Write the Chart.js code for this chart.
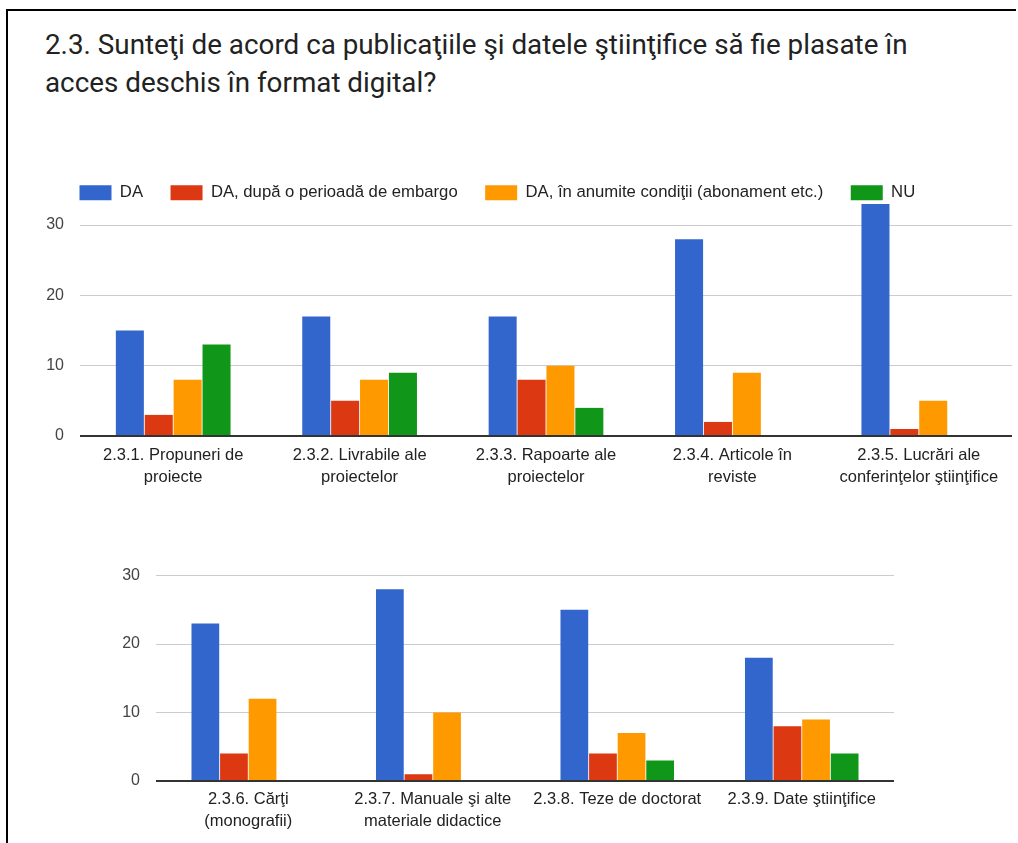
<!DOCTYPE html>
<html><head><meta charset="utf-8">
<script src="https://cdn.jsdelivr.net/npm/chart.js@4.4.0/dist/chart.umd.min.js"></script>
<style>
html,body{margin:0;padding:0;background:#fff;width:1018px;height:843px;overflow:hidden;position:relative;font-family:"Liberation Sans",Arial,sans-serif;}
#bt{position:absolute;left:6px;top:9px;width:1010px;height:2px;background:#000;}
#bl{position:absolute;left:6px;top:9px;width:2px;height:834px;background:#000;}
#title{position:absolute;left:45px;top:26px;font-family:Roboto,sans-serif;font-size:27.8px;line-height:38px;color:#222;white-space:nowrap;}
#w1{position:absolute;left:0;top:157px;width:1018px;height:363px;}
#w2{position:absolute;left:0;top:550px;width:1018px;height:293px;}
</style></head>
<body>
<div id="bt"></div><div id="bl"></div>
<div id="title">2.3. Sunteţi de acord ca publicaţiile şi datele ştiinţifice să fie plasate în<br>acces deschis în format digital?</div>
<div id="w1"><canvas id="c1"></canvas></div>
<div id="w2"><canvas id="c2"></canvas></div>
<script>
const seriesNames = ["DA", "DA, după o perioadă de embargo", "DA, în anumite condiţii (abonament etc.)", "NU"];
const colors = ["#3366cc", "#dc3912", "#ff9900", "#109618"];

const categoriesTop = [
  ["2.3.1. Propuneri de", "proiecte"],
  ["2.3.2. Livrabile ale", "proiectelor"],
  ["2.3.3. Rapoarte ale", "proiectelor"],
  ["2.3.4. Articole în", "reviste"],
  ["2.3.5. Lucrări ale", "conferinţelor ştiinţifice"]
];
const daTop       = [15, 17, 17, 28, 33];
const embargoTop  = [3, 5, 8, 2, 1];
const conditiiTop = [8, 8, 10, 9, 5];
const nuTop       = [13, 9, 4, 0, 0];

const categoriesBottom = [
  ["2.3.6. Cărţi", "(monografii)"],
  ["2.3.7. Manuale şi alte", "materiale didactice"],
  ["2.3.8. Teze de doctorat"],
  ["2.3.9. Date ştiinţifice"]
];
const daBottom       = [23, 28, 25, 18];
const embargoBottom  = [4, 1, 4, 8];
const conditiiBottom = [12, 10, 7, 9];
const nuBottom       = [0, 0, 3, 4];

const yTickValues = [0, 10, 20, 30];

Chart.defaults.font.family = '"Liberation Sans", Arial, sans-serif';
Chart.defaults.animation = false;

const legendShift = {
  id: 'legendShift',
  afterLayout(chart, args, opts){
    if (chart.legend && opts && opts.dx) { chart.legend.left += opts.dx; }
  }
};

function makeDatasets(arrs){
  return arrs.map((d,i)=>({label: seriesNames[i], data: d, backgroundColor: colors[i], borderWidth: 0,
    categoryPercentage: 0.62, barPercentage: 0.97}));
}

function makeOptions(cfg){
  return {
    responsive: true, maintainAspectRatio: false, animation: false,
    layout: {padding: cfg.padding},
    plugins: {
      legendShift: {dx: cfg.legendDx || 0},
      legend: cfg.legend ? {
        display: true, position: 'top', align: 'start', maxHeight: 47,
        labels: {boxWidth: 32, boxHeight: 15, padding: 27.5, color: '#222', font: {size: 16.7}}
      } : {display: false},
      tooltip: {enabled: false}
    },
    scales: {
      x: {
        grid: {display: false, drawTicks: false}, border: {display: false},
        ticks: {color: '#222', font: {size: 16.5, lineHeight: 1.3}, padding: cfg.xPad, maxRotation: 0, autoSkip: false},
        afterFit: (a)=>{ a.height = cfg.xHeight; }
      },
      y: {
        min: 0, max: cfg.yMax,
        border: {display: false},
        grid: {drawTicks: false, color: (c)=> c.tick && c.tick.value === 0 ? '#333' : '#ccc',
               lineWidth: (c)=> c.tick && c.tick.value === 0 ? 2 : 1},
        ticks: {color: '#444', font: {size: 16}, padding: 16},
        afterBuildTicks: (a)=>{ a.ticks = yTickValues.map(v=>({value: v})); },
        afterFit: (a)=>{ a.width = cfg.yWidth; }
      }
    }
  };
}

new Chart(document.getElementById('c1'), {
  type: 'bar',
  data: {labels: categoriesTop, datasets: makeDatasets([daTop, embargoTop, conditiiTop, nuTop])},
  options: makeOptions({padding: {top: 0, left: 0, right: 6, bottom: 0}, legend: true, legendDx: 52, yMax: 33, yWidth: 80, xHeight: 84, xPad: 9}),
  plugins: [legendShift]
});

new Chart(document.getElementById('c2'), {
  type: 'bar',
  data: {labels: categoriesBottom, datasets: makeDatasets([daBottom, embargoBottom, conditiiBottom, nuBottom])},
  options: makeOptions({padding: {top: 22, left: 0, right: 124, bottom: 0}, legend: false, yMax: 30, yWidth: 156, xHeight: 62, xPad: 8}),
  plugins: [legendShift]
});
</script>
</body></html>
